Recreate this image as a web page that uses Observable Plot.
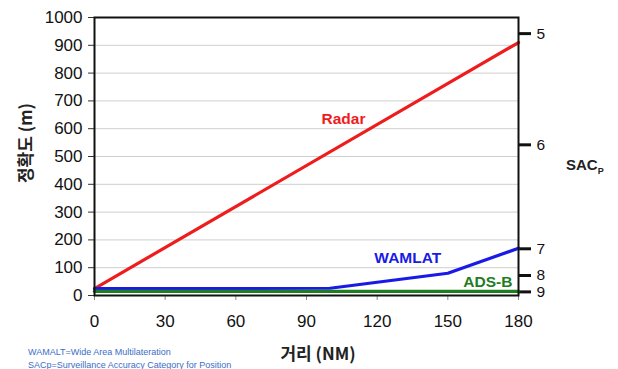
<!DOCTYPE html>
<html><head><meta charset="utf-8">
<script src="https://cdn.jsdelivr.net/npm/d3@7"></script>
<script src="https://cdn.jsdelivr.net/npm/@observablehq/plot@0.6"></script>
<style>
body{margin:0;background:#fff;}
#wrap{position:relative;width:618px;height:369px;overflow:hidden;font-family:"Liberation Sans",Arial,sans-serif;}
.ov{position:absolute;white-space:nowrap;}
</style></head><body>
<div id="wrap"></div>
<script>
const radarX = [0, 180];
const radar = [25, 910];
const wamlatX = [0, 60, 100, 150, 180];
const wamlat = [25, 25, 26, 80, 170];
const adsbX = [0, 180];
const adsb = [15, 15];
const xTicks = [0, 30, 60, 90, 120, 150, 180];
const yTicks = [0, 100, 200, 300, 400, 500, 600, 700, 800, 900, 1000];
const sacValues = [942, 542, 168, 72, 13];
const sacLabels = ["5", "6", "7", "8", "9"];
const labelNames = ["Radar", "WAMLAT", "ADS-B"];
const labelX = [105.7, 133, 167];
const labelY = [636, 133, 50];
const labelColors = ["#ee1c1c", "#1a1ae6", "#1e7d1e"];

const series = [
  ...radar.map((v,i)=>({s:"Radar", x:radarX[i], y:v})),
  ...wamlat.map((v,i)=>({s:"WAMLAT", x:wamlatX[i], y:v})),
  ...adsb.map((v,i)=>({s:"ADS-B", x:adsbX[i], y:v}))
];
const labels = labelNames.map((n,i)=>({n, x:labelX[i], y:labelY[i], c:labelColors[i]}));

const chart = Plot.plot({
  width: 618, height: 369,
  marginLeft: 94, marginRight: 100, marginTop: 17, marginBottom: 74,
  style: {fontFamily: '"Liberation Sans", Arial, sans-serif', background: "white", color: "#111"},
  x: {domain: [0, 180]},
  y: {domain: [0, 1000]},
  marks: [
    Plot.gridY(yTicks, {stroke: "#cfcfcf", strokeOpacity: 1, strokeWidth: 1}),
    Plot.axisY({ticks: yTicks, tickFormat: d3.format("d"), tickSize: 6, tickPadding: 6, fontSize: 17, label: null, stroke: "#333"}),
    Plot.axisX({ticks: xTicks, tickSize: 5, tickPadding: 14, fontSize: 17, label: null, stroke: "#888"}),
    Plot.axisY({anchor: "right", ticks: sacValues, tickFormat: d=>sacLabels[sacValues.indexOf(d)], tickSize: 12, tickPadding: 6, fontSize: 15.5, label: null, strokeWidth: 3, stroke: "#111"}),
    Plot.line(series, {x: "x", y: "y", z: "s", stroke: d => labelColors[labelNames.indexOf(d.s)], strokeWidth: 3.2}),
    Plot.frame({stroke: "#111", strokeWidth: 2}),
    Plot.text(labels, {x: "x", y: "y", text: "n", fill: "c", fontSize: 15.5, fontWeight: "bold"})
  ]
});
const wrap = document.getElementById("wrap");
wrap.appendChild(chart);
wrap.insertAdjacentHTML("beforeend", `
<div class="ov" style="left:24px;top:143px;transform:translate(-50%,-50%) rotate(-90deg);font-family:'Noto Sans CJK KR',sans-serif;font-weight:bold;font-size:17px;color:#222;">정확도 (m)</div>
<div class="ov" style="left:318px;top:352px;transform:translate(-50%,-50%);font-family:'Noto Sans CJK KR',sans-serif;font-weight:bold;font-size:17px;color:#222;">거리 (NM)</div>
<div class="ov" style="left:566px;top:156px;font-weight:bold;font-size:15px;color:#222;">SAC<sub style="font-size:9px;">P</sub></div>
<div class="ov" style="left:28px;top:346px;font-size:9px;color:#3a6ec8;line-height:13px;">WAMALT=Wide Area Multilateration<br>SACp=Surveillance Accuracy Category for Position</div>
`);
</script>
</body></html>
